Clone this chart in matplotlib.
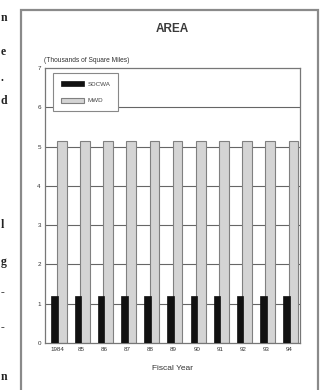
import matplotlib
matplotlib.use("Agg")
import matplotlib.pyplot as plt
import matplotlib.patches as mpatches
import numpy as np

# Service area by fiscal year (thousands of square miles)
years = ["1984", "85", "86", "87", "88", "89", "90", "91", "92", "93", "94"]
sdcwa = [1.2, 1.2, 1.2, 1.2, 1.2, 1.2, 1.2, 1.2, 1.2, 1.2, 1.2]
mwd = [5.15, 5.15, 5.15, 5.15, 5.15, 5.15, 5.15, 5.15, 5.15, 5.15, 5.15]
series_names = ["SDCWA", "MWD"]
y_ticks = [0, 1, 2, 3, 4, 5, 6, 7]

plt.rcParams["font.family"] = ["Liberation Sans", "DejaVu Sans"]

W, H = 320, 390
fig = plt.figure(figsize=(W / 100, H / 100), dpi=100)
fig.patch.set_facecolor("white")

def fx(px):
    return px / W

def fy(py):
    return 1 - py / H

# line endings of the page text in the left margin
for ch, py in [("n", 18), ("e", 52), (".", 78), ("d", 101), ("l", 225),
               ("g", 262), ("-", 292), ("-", 327), ("n", 377)]:
    fig.text(fx(0.5), fy(py), ch, fontsize=8.5, fontweight="bold",
             family=["Liberation Serif", "DejaVu Serif"], color="#222222",
             ha="left", va="center")

# outer frame around the exhibit
frame = mpatches.Rectangle((fx(21), fy(392)), fx(318) - fx(21), fy(10) - fy(392),
                           transform=fig.transFigure, fill=False,
                           edgecolor="#8a8a8a", linewidth=1.6)
fig.add_artist(frame)

ax = fig.add_axes([fx(45), fy(343), fx(300) - fx(45), fy(68) - fy(343)])

x = np.arange(len(years))
ax.bar(x + 0.17, mwd, width=0.42, color="#d4d4d4", edgecolor="#808080",
       linewidth=0.8, zorder=2, label=series_names[1])
ax.bar(x - 0.13, sdcwa, width=0.28, color="#111111", edgecolor="#111111",
       linewidth=0.5, zorder=3, label=series_names[0])

ax.set_xlim(-0.55, 10.45)
ax.set_ylim(0, 7)
ax.set_yticks(y_ticks)
ax.set_yticklabels([str(t) for t in y_ticks], fontsize=4.5)
ax.set_xticks(x)
ax.set_xticklabels(years, fontsize=4.5)
ax.tick_params(axis="both", length=0, pad=3, colors="#333333")
for t in y_ticks[1:-1]:
    ax.axhline(t, color="#666666", linewidth=0.8, zorder=1)
for s in ax.spines.values():
    s.set_color("#777777")
    s.set_linewidth(0.9)

ax.set_xlabel("Fiscal Year", fontsize=6, color="#333333", labelpad=9)

fig.text(fx(172), fy(29), "AREA", fontsize=8.5, fontweight="bold",
         ha="center", va="center", color="#3a3a3a")
fig.text(fx(44), fy(61), "(Thousands of Square Miles)", fontsize=4.8,
         ha="left", va="center", color="#333333")

h, l = ax.get_legend_handles_labels()
leg = fig.legend(h[::-1], l[::-1], loc="upper left",
                 bbox_to_anchor=(fx(53), fy(73)), fontsize=4.5,
                 handlelength=3.6, handleheight=0.9, labelspacing=1.7,
                 borderpad=1.3, handletextpad=0.6, borderaxespad=0,
                 fancybox=False, framealpha=1, edgecolor="#888888")
leg.get_frame().set_linewidth(0.8)
for txt in leg.get_texts():
    txt.set_color("#444444")

fig.savefig("out.png", dpi=100, facecolor="white")
